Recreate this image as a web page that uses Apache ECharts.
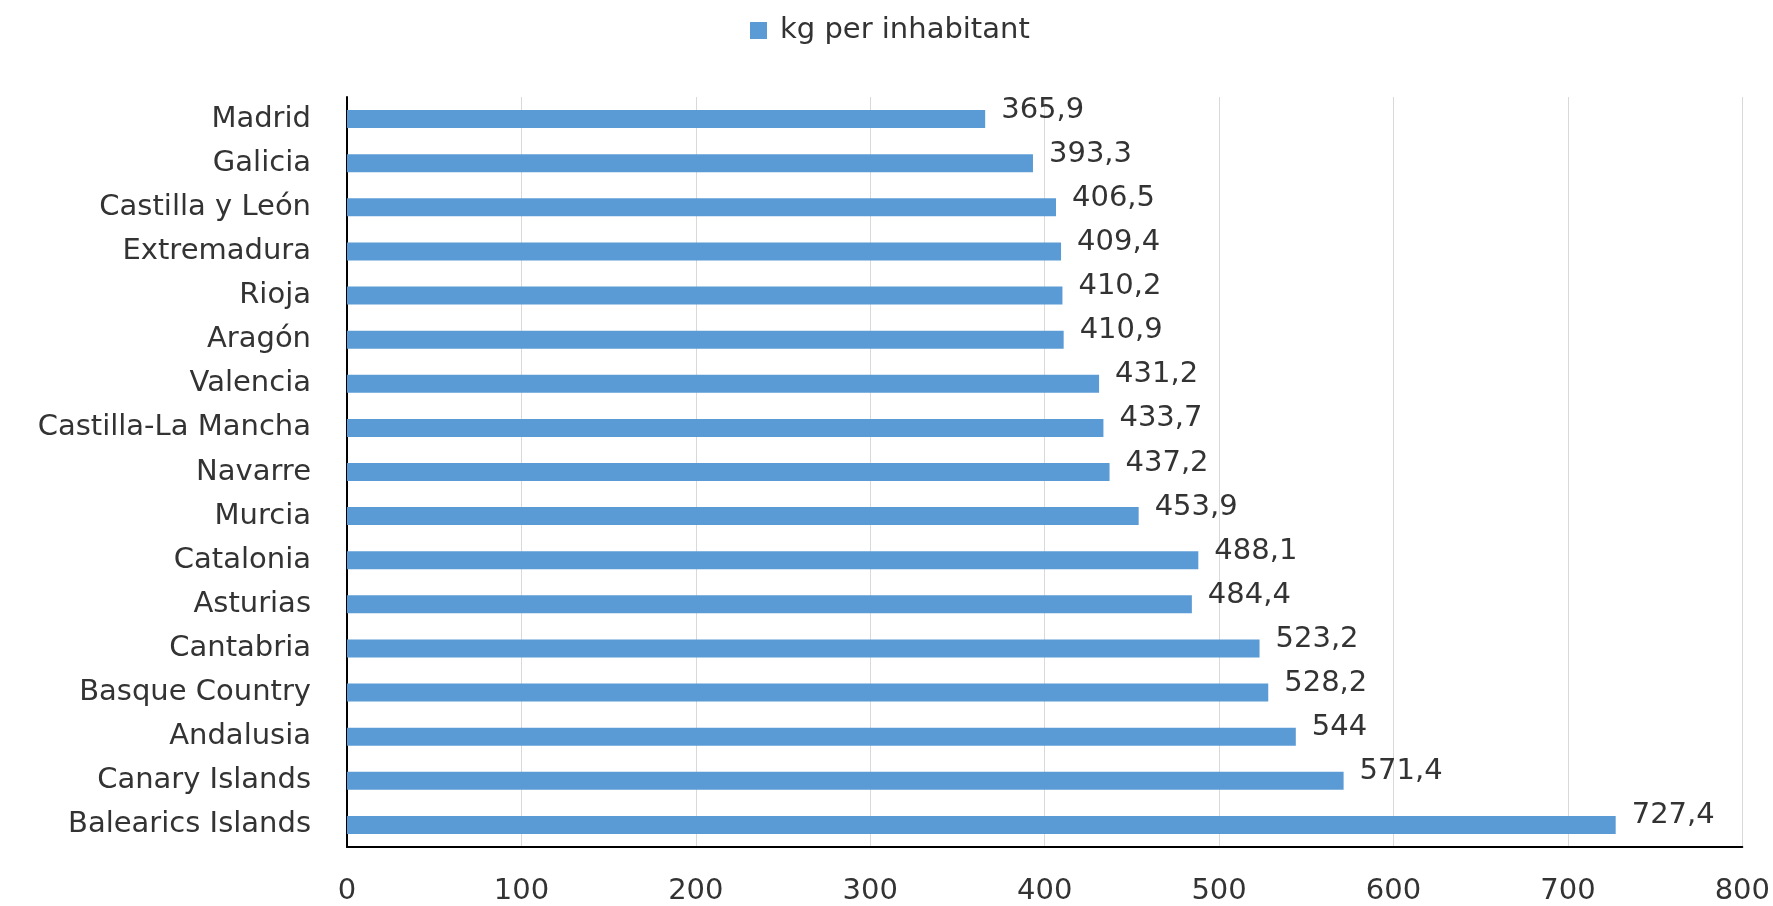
<!DOCTYPE html>
<html>
<head>
<meta charset="utf-8">
<script src="https://cdn.jsdelivr.net/npm/echarts@6/dist/echarts.min.js"></script>
<style>
html,body{margin:0;padding:0;background:#fff;}
#chart{width:1773px;height:906px;}
</style>
</head>
<body>
<div id="chart"></div>
<script>
var categories = ["Madrid","Galicia","Castilla y León","Extremadura","Rioja","Aragón","Valencia","Castilla-La Mancha","Navarre","Murcia","Catalonia","Asturias","Cantabria","Basque Country","Andalusia","Canary Islands","Balearics Islands"];
var values = [365.9,393.3,406.5,409.4,410.2,410.9,431.2,433.7,437.2,453.9,488.1,484.4,523.2,528.2,544,571.4,727.4];
var seriesName = "kg per inhabitant";
var xTicks = {min:0, max:800, interval:100};

var FONT = "DejaVu Sans";
var TXT = "#333333";
var chart = echarts.init(document.getElementById('chart'), null, {renderer:'canvas'});
chart.setOption({
  animation:false,
  backgroundColor:'#ffffff',
  legend:{
    data:[seriesName],
    left:745, top:11,
    itemWidth:17, itemHeight:17,
    icon:'rect',
    textStyle:{fontFamily:FONT, fontSize:29, color:TXT, padding:[0,0,0,8]}
  },
  grid:{left:347, right:30, top:97, bottom:57, containLabel:false},
  xAxis:{
    type:'value', min:xTicks.min, max:xTicks.max, interval:xTicks.interval,
    axisLine:{show:true, lineStyle:{color:'#000', width:2}},
    axisTick:{show:false},
    axisLabel:{fontFamily:FONT, fontSize:29, color:TXT, margin:30, showMaxLabel:true},
    splitLine:{show:true, lineStyle:{color:'#d9d9d9', width:1}}
  },
  yAxis:{
    type:'category', data:categories, inverse:true,
    axisLine:{show:true, onZero:false, lineStyle:{color:'#000', width:2}},
    axisTick:{show:false},
    axisLabel:{fontFamily:FONT, fontSize:29, color:TXT, margin:36, interval:0}
  },
  series:[{
    name:seriesName, type:'bar', data:values, barWidth:18,
    itemStyle:{color:'#5b9bd5'},
    label:{
      show:true, position:'right', distance:16, offset:[0,-9],
      fontFamily:FONT, fontSize:29, color:TXT,
      formatter:function(p){return String(p.value).replace('.', ',');}
    }
  }]
});
</script>
</body>
</html>
